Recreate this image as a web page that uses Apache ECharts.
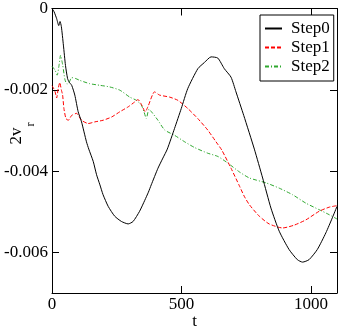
<!DOCTYPE html>
<html><head><meta charset="utf-8">
<script src="https://cdn.jsdelivr.net/npm/echarts@6/dist/echarts.min.js"></script>
<style>html,body{margin:0;padding:0;background:#fff}#c{width:340px;height:328px}</style>
</head><body><div id="c"></div>
<script>
var seriesNames = ['Step0', 'Step1', 'Step2'];
var xTicks = [0, 500, 1000];
var yTicks = [0, -0.002, -0.004, -0.006];

var step0T = [0, 8, 18, 26, 31, 36, 44, 52, 60, 66, 76, 88, 101, 114, 133, 142, 159, 172, 185, 197, 217, 242, 268, 294, 313, 338, 358, 372, 383, 409, 428, 445, 473, 499, 524, 563, 588, 614, 640, 665, 691, 710, 740, 781, 813, 845, 877, 915, 947, 967, 992, 1024, 1057, 1082, 1100];
var step0V = [0, -0.00008, -0.00025, -0.00042, -0.00032, -0.00044, -0.0009, -0.0014, -0.00172, -0.00181, -0.00189, -0.00213, -0.00254, -0.00279, -0.00328, -0.00346, -0.00376, -0.00409, -0.00434, -0.00458, -0.00487, -0.00511, -0.00524, -0.0053, -0.00524, -0.00499, -0.00472, -0.00452, -0.00434, -0.00393, -0.00368, -0.00346, -0.00295, -0.00246, -0.00197, -0.00148, -0.00133, -0.00119, -0.00122, -0.00148, -0.00169, -0.00205, -0.00263, -0.00346, -0.00417, -0.00491, -0.00548, -0.00593, -0.00618, -0.00624, -0.00618, -0.00593, -0.00552, -0.00515, -0.00487];

var step1T = [0, 5, 12, 18, 24, 30, 36, 41, 46, 54, 63, 76, 95, 114, 140, 165, 197, 230, 262, 294, 319, 332, 345, 360, 370, 396, 415, 454, 486, 524, 563, 601, 633, 655, 691, 723, 742, 762, 800, 838, 890, 935, 980, 1031, 1069, 1100];
var step1V = [-0.0019, -0.00195, -0.00205, -0.0022, -0.00197, -0.00182, -0.002, -0.00213, -0.00246, -0.00271, -0.00275, -0.00263, -0.00258, -0.00275, -0.00283, -0.00279, -0.00275, -0.00267, -0.00254, -0.00242, -0.0023, -0.00224, -0.00236, -0.00254, -0.00242, -0.00205, -0.00213, -0.00218, -0.00226, -0.00246, -0.00271, -0.00299, -0.00328, -0.00348, -0.00393, -0.00436, -0.00462, -0.00483, -0.00511, -0.0053, -0.0054, -0.00533, -0.0052, -0.00499, -0.00489, -0.00485];

var step2T = [0, 5, 12, 20, 28, 33, 41, 50, 58, 66, 76, 90, 108, 146, 185, 223, 262, 300, 326, 345, 355, 364, 374, 385, 409, 435, 473, 512, 550, 601, 640, 678, 723, 762, 826, 877, 928, 980, 1031, 1069, 1100];
var step2V = [-0.00142, -0.00146, -0.00152, -0.00164, -0.00136, -0.00115, -0.00138, -0.00175, -0.00186, -0.00182, -0.0017, -0.00172, -0.00177, -0.00185, -0.00189, -0.00193, -0.00201, -0.00218, -0.00226, -0.00238, -0.00254, -0.00271, -0.00248, -0.00255, -0.00275, -0.00299, -0.00312, -0.00328, -0.00342, -0.00356, -0.00364, -0.0038, -0.00402, -0.00417, -0.00429, -0.00442, -0.00458, -0.00479, -0.00495, -0.00507, -0.00518];

function pairs(t, v) { return t.map(function (x, i) { return [x, v[i]]; }); }

var FONT = '"Liberation Serif", "Times New Roman", "DejaVu Serif", serif';
var chart = echarts.init(document.getElementById('c'));

function xAx(pos, showLabel) {
  return {
    type: 'value', position: pos, min: 0, max: 1100,
    axisLine: { show: true, onZero: false, lineStyle: { color: '#000', width: 1 } },
    axisTick: { show: true, inside: true, length: 7, customValues: xTicks, lineStyle: { color: '#000' } },
    axisLabel: { show: showLabel, customValues: xTicks, margin: 3, color: '#000', fontFamily: FONT, fontSize: 17,
      formatter: function (v) { return String(v); } },
    splitLine: { show: false }
  };
}
function yAx(pos, showLabel) {
  return {
    type: 'value', position: pos, min: -0.007, max: 0,
    axisLine: { show: true, onZero: false, lineStyle: { color: '#000', width: 1 } },
    axisTick: { show: true, inside: true, length: 7, customValues: yTicks, lineStyle: { color: '#000' } },
    axisLabel: { show: showLabel, customValues: yTicks, margin: 4, color: '#000', fontFamily: FONT, fontSize: 17,
      formatter: function (v) { return v === 0 ? '0' : v.toFixed(3); } },
    splitLine: { show: false }
  };
}

var colors = ['#000000', '#ff0000', '#2ea82e'];
var types = ['solid', [4, 2], [4, 2, 1, 2]];
var datas = [pairs(step0T, step0V), pairs(step1T, step1V), pairs(step2T, step2V)];

chart.setOption({
  animation: false,
  backgroundColor: '#fff',
  grid: { left: 52, top: 8, right: 3, bottom: 35, containLabel: false },
  xAxis: [xAx('bottom', true), xAx('top', false)],
  yAxis: [yAx('left', true), yAx('right', false)],
  legend: {
    orient: 'vertical', left: 260, top: 15,
    padding: [5, 4, 6, 4], itemGap: 2, itemWidth: 17, itemHeight: 14,
    backgroundColor: '#fff', borderColor: '#000', borderWidth: 1, borderRadius: 0,
    itemStyle: { opacity: 0 },
    textStyle: { color: '#000', fontFamily: FONT, fontSize: 17, lineHeight: 17, padding: [0, 0, 0, 4] },
    data: seriesNames
  },
  series: seriesNames.map(function (n, i) {
    return {
      name: n, type: 'line', data: datas[i], symbol: 'none', smooth: 0.2,
      lineStyle: { color: colors[i], width: 1, type: types[i] },
      itemStyle: { color: colors[i] },
      z: 3 - i
    };
  }),
  graphic: [
    { type: 'text', x: 194.5, y: 322, style: { text: 't', fontFamily: FONT, fontSize: 17, fill: '#000', textAlign: 'center', textVerticalAlign: 'middle' } },
    { type: 'text', x: 16.5, y: 136, rotation: Math.PI / 2, style: { text: '2v', fontFamily: FONT, fontSize: 17, fill: '#000', textAlign: 'center', textVerticalAlign: 'middle' } },
    { type: 'text', x: 31, y: 124.5, rotation: Math.PI / 2, style: { text: 'r', fontFamily: FONT, fontSize: 12, fill: '#000', textAlign: 'center', textVerticalAlign: 'middle' } }
  ]
});
</script></body></html>
